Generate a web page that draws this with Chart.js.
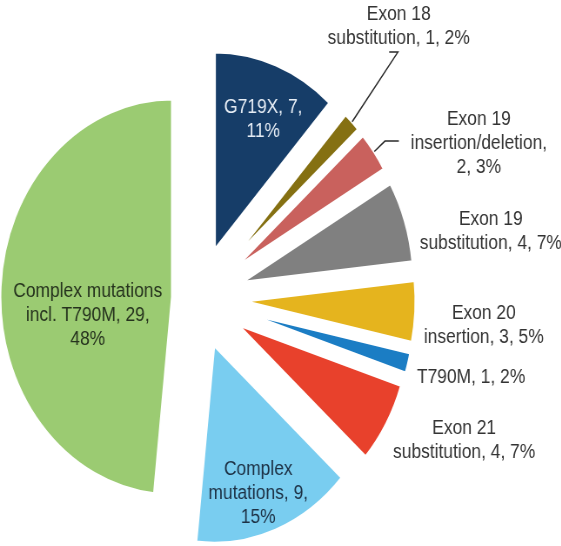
<!DOCTYPE html>
<html>
<head>
<meta charset="utf-8">
<script src="https://cdn.jsdelivr.net/npm/chart.js@4.4.1/dist/chart.umd.min.js"></script>
<style>
    html, body { margin: 0; padding: 0; background: #fff; overflow: hidden; }
    #wrap { width: 645px; height: 546px; transform: scaleX(0.87); transform-origin: 0 0; }
</style>
</head>
<body>
<div id="wrap"><canvas id="mutChart" width="645" height="546"></canvas></div>
<script>
// EGFR mutation types: count of patients and share of the total
var categories = [
    "G719X",
    "Exon 18 substitution",
    "Exon 19 insertion/deletion",
    "Exon 19 substitution",
    "Exon 20 insertion",
    "T790M",
    "Exon 21 substitution",
    "Complex mutations",
    "Complex mutations incl. T790M"
];
var counts = [7, 1, 2, 4, 3, 1, 4, 9, 29];
var percents = [11, 2, 3, 7, 5, 2, 7, 15, 48];

var sliceColors = [
    "#163d68",
    "#857012",
    "#c9615d",
    "#808080",
    "#e5b41e",
    "#1b7dc4",
    "#e8412c",
    "#79cdf0",
    "#9bcb72"
];

// how far each slice is pulled out of the pie (px)
var explode = [52, 52, 52, 52, 52, 52, 52, 50, 30];

// label placement: distance from slice centre as share of radius, turn in degrees
var labelDist = [0.715, 1.54, 1.55, 1.47, 1.40, 1.37, 1.44, 0.79, 0.50];
var labelTurn = [2.3, -5.6, 12, 8, 2, -1, -6, 2, -14];
// wrap width in em
var labelWrap = [5.3, 8.7, 8.4, 8.7, 7.4, 12, 8.7, 6.8, 8.95];
var labelColors = ["#e6edf5", "#333", "#333", "#333", "#333", "#333", "#333", "#1d3145", "#26331e"];

// leader lines for the two thin slices: elbow and end, relative to the label
var leaders = {
    1: [[-1, 26], [-11, 26]],
    2: [[-108, -2], [-92, -2]]
};

var FONT_SIZE = 20;
var LINE_H = 24;
var RADIUS = 198;

function wrapText(ctx, text, maxW) {
    var words = text.split(" ");
    var lines = [];
    var cur = "";
    words.forEach(function (w) {
        var test = cur ? cur + " " + w : w;
        if (cur && ctx.measureText(test).width > maxW) {
            lines.push(cur);
            cur = w;
        } else {
            cur = test;
        }
    });
    if (cur) lines.push(cur);
    return lines;
}

var explodePlugin = {
    id: "explode",
    afterDatasetsUpdate: function (chart) {
        var arcs = chart.getDatasetMeta(0).data;
        arcs.forEach(function (arc, i) {
            var mid = (arc.startAngle + arc.endAngle) / 2;
            arc.x += explode[i] * Math.cos(mid);
            arc.y += explode[i] * Math.sin(mid);
        });
    }
};

var labelPlugin = {
    id: "sliceLabels",
    afterDatasetsDraw: function (chart) {
        var ctx = chart.ctx;
        var arcs = chart.getDatasetMeta(0).data;
        ctx.save();
        ctx.font = FONT_SIZE + "px 'Liberation Sans', Arial, sans-serif";
        ctx.textAlign = "center";
        ctx.textBaseline = "middle";
        arcs.forEach(function (arc, i) {
            var mid = (arc.startAngle + arc.endAngle) / 2;
            var a = mid + labelTurn[i] * Math.PI / 180;
            var r = arc.outerRadius * labelDist[i];
            var ax = arc.x + r * Math.cos(a);
            var ay = arc.y + r * Math.sin(a);
            var text = categories[i] + ", " + counts[i] + ", " + percents[i] + "%";
            var lines = wrapText(ctx, text, labelWrap[i] * FONT_SIZE);
            var top = ay - (lines.length - 1) * LINE_H / 2;
            ctx.fillStyle = labelColors[i];
            lines.forEach(function (t, k) {
                ctx.fillText(t, ax, top + k * LINE_H);
            });
            if (leaders[i]) {
                var sx = arc.x + arc.outerRadius * Math.cos(mid);
                var sy = arc.y + arc.outerRadius * Math.sin(mid);
                ctx.beginPath();
                ctx.moveTo(sx, sy);
                ctx.lineTo(ax + leaders[i][0][0], ay + leaders[i][0][1]);
                ctx.lineTo(ax + leaders[i][1][0], ay + leaders[i][1][1]);
                ctx.strokeStyle = "#2a2a2a";
                ctx.lineWidth = 1.5;
                ctx.stroke();
            }
        });
        ctx.restore();
    }
};

new Chart("mutChart", {
    type: "pie",
    data: {
        labels: categories,
        datasets: [{
            data: counts,
            backgroundColor: sliceColors,
            borderColor: "#ffffff",
            borderWidth: 3,
            radius: RADIUS
        }]
    },
    options: {
        responsive: false,
        animation: false,
        events: [],
        layout: { padding: { left: 0, right: 189, top: 51, bottom: 0 } },
        plugins: {
            legend: { display: false },
            tooltip: { enabled: false }
        }
    },
    plugins: [explodePlugin, labelPlugin]
});
</script>
</body>
</html>
